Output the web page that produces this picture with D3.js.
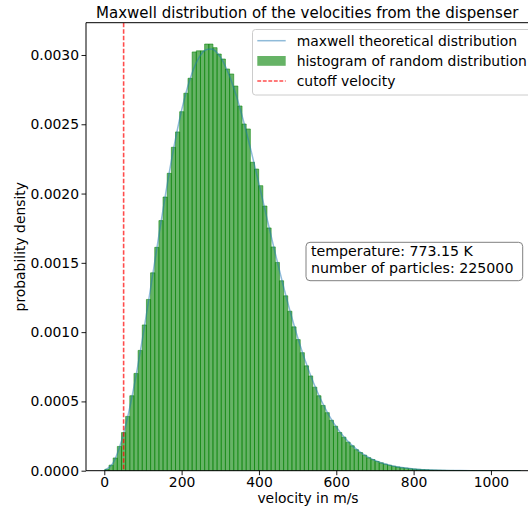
<!DOCTYPE html>
<html>
<head>
<meta charset="utf-8">
<script src="https://cdn.jsdelivr.net/npm/d3@7"></script>
<style>
  body { margin: 0; background: #ffffff; }
  svg { display: block; font-family: "DejaVu Sans", sans-serif; }
</style>
</head>
<body>
<svg id="chart" width="528" height="510"></svg>
<script>
// Histogram of sampled velocities: 100 equal bins starting at binStart (m/s)
const binStart = 1.5;
const binWidth = 10.75;
const histDensity = [
  1.0e-5, 4.0e-5, 9.2e-5, 1.75e-4, 2.75e-4, 3.92e-4, 5.41e-4, 7.02e-4, 8.68e-4, 1.052e-3,
  1.236e-3, 1.428e-3, 1.612e-3, 1.805e-3, 1.975e-3, 2.146e-3, 2.334e-3, 2.445e-3, 2.591e-3, 2.724e-3,
  2.832e-3, 3.022e-3, 3.030e-3, 3.030e-3, 3.079e-3, 3.079e-3, 3.053e-3, 3.007e-3, 2.971e-3, 2.899e-3,
  2.863e-3, 2.776e-3, 2.632e-3, 2.502e-3, 2.466e-3, 2.226e-3, 2.177e-3, 2.057e-3, 1.910e-3, 1.752e-3,
  1.615e-3, 1.503e-3, 1.371e-3, 1.262e-3, 1.151e-3, 1.038e-3, 9.46e-4, 8.52e-4, 7.57e-4, 6.84e-4,
  6.03e-4, 5.41e-4, 4.71e-4, 4.19e-4, 3.64e-4, 3.21e-4, 2.76e-4, 2.42e-4, 2.06e-4, 1.80e-4,
  1.52e-4, 1.31e-4, 1.12e-4, 9.37e-5, 8.01e-5, 6.68e-5, 5.65e-5, 4.66e-5, 3.94e-5, 3.22e-5,
  2.70e-5, 2.19e-5, 1.84e-5, 1.48e-5, 1.22e-5, 9.7e-6, 7.9e-6, 6.6e-6, 5.0e-6, 4.1e-6,
  3.3e-6, 2.6e-6, 2.0e-6, 1.7e-6, 1.2e-6, 1.0e-6, 8.3e-7, 4.1e-7, 8.3e-7, 4.1e-7,
  0, 4.1e-7, 0, 0, 4.1e-7, 0, 0, 0, 0, 4.1e-7
];

// Theoretical Maxwell speed distribution, tabulated (m/s, probability density)
const curveVelocity = [
  0, 20, 40, 60, 80, 100, 120, 140, 160, 180, 200, 220, 240, 260, 280, 300, 320, 340, 360, 380,
  400, 420, 440, 460, 480, 500, 520, 540, 560, 580, 600, 620, 640, 660, 680, 700, 720, 740, 760, 780,
  800, 850, 900, 950, 1000, 1050, 1076
];
const curveDensity = [
  0, 4.43e-5, 1.745e-4, 3.821e-4, 6.542e-4, 9.738e-4, 1.3217e-3, 1.6774e-3, 2.0209e-3, 2.3341e-3,
  2.6015e-3, 2.8111e-3, 2.9562e-3, 3.0326e-3, 3.0411e-3, 2.9867e-3, 2.8759e-3, 2.7182e-3, 2.5239e-3, 2.3042e-3,
  2.0701e-3, 1.8301e-3, 1.5937e-3, 1.3671e-3, 1.1559e-3, 9.634e-4, 7.914e-4, 6.419e-4, 5.136e-4, 4.055e-4,
  3.157e-4, 2.428e-4, 1.844e-4, 1.382e-4, 1.022e-4, 7.47e-5, 5.39e-5, 3.84e-5, 2.71e-5, 1.89e-5,
  1.30e-5, 4.8e-6, 1.7e-6, 5.0e-7, 1.5e-7, 4.0e-8, 1.0e-8
];

const cutoffVelocity = 50;

const xTicks = [0, 200, 400, 600, 800, 1000];
const yTicks = [0, 0.0005, 0.0010, 0.0015, 0.0020, 0.0025, 0.0030];

const titleText = "Maxwell distribution of the velocities from the dispenser";
const xLabelText = "velocity in m/s";
const yLabelText = "probability density";
const legendLabels = ["maxwell theoretical distribution", "histogram of random distribution", "cutoff velocity"];
const infoLines = ["temperature: 773.15 K", "number of particles: 225000"];

// ---- drawing ----
const BAR_FILL = "rgba(0,128,0,0.6)";
const CURVE_COLOR = "#1f77b4";
const CUTOFF_COLOR = "rgba(255,0,0,0.7)";
const FONT = 13.9;

const svg = d3.select("#chart");
const plot = { left: 86, right: 530, top: 22.7, bottom: 470.7 };

const x = d3.scaleLinear().domain([-47.3, 1101]).range([plot.left, plot.right]);
const y = d3.scaleLinear().domain([0, 0.003233]).range([plot.bottom, plot.top]);

svg.append("defs").append("clipPath").attr("id", "plot-clip")
  .append("rect")
  .attr("x", plot.left).attr("y", plot.top)
  .attr("width", plot.right - plot.left).attr("height", plot.bottom - plot.top);

const body = svg.append("g").attr("clip-path", "url(#plot-clip)");

// histogram bars (paths so that empty bins still show their outline)
const bins = histDensity.map((d, i) => ({
  x0: binStart + i * binWidth,
  x1: binStart + (i + 1) * binWidth,
  d
}));
body.append("g").selectAll("path").data(bins).join("path")
  .attr("d", b => {
    const a = x(b.x0), c = x(b.x1), y0 = y(0), y1 = y(b.d);
    return `M${a},${y0}V${y1}H${c}V${y0}Z`;
  })
  .attr("fill", BAR_FILL)
  .attr("stroke", BAR_FILL)
  .attr("stroke-width", 0.9);

// theoretical curve
const line = d3.line()
  .x((v, i) => x(v))
  .y((v, i) => y(curveDensity[i]))
  .curve(d3.curveCatmullRom.alpha(0.5));
body.append("path")
  .attr("d", line(curveVelocity))
  .attr("fill", "none")
  .attr("stroke", CURVE_COLOR)
  .attr("stroke-opacity", 0.5)
  .attr("stroke-width", 1.5);

// cutoff velocity
body.append("line")
  .attr("x1", x(cutoffVelocity)).attr("x2", x(cutoffVelocity))
  .attr("y1", plot.top).attr("y2", plot.bottom)
  .attr("stroke", CUTOFF_COLOR)
  .attr("stroke-width", 1.6)
  .attr("stroke-dasharray", "4.5,2");

// axes
const xAxis = d3.axisBottom(x).tickValues(xTicks).tickSize(4.5).tickPadding(2.4)
  .tickFormat(d3.format("d"));
const yAxis = d3.axisLeft(y).tickValues(yTicks).tickSize(4.5).tickPadding(2.5)
  .tickFormat(d3.format(".4f"));

const gx = svg.append("g").attr("transform", `translate(0,${plot.bottom})`).call(xAxis);
const gy = svg.append("g").attr("transform", `translate(${plot.left},0)`).call(yAxis);
[gx, gy].forEach(g => {
  g.select(".domain").remove();
  g.attr("font-family", "DejaVu Sans, sans-serif").attr("font-size", FONT);
  g.selectAll(".tick line").attr("stroke", "#000").attr("stroke-width", 0.9);
  g.selectAll(".tick text").attr("fill", "#000");
});

// spines
const spines = svg.append("g").attr("stroke", "#000").attr("stroke-width", 1).attr("fill", "none");
spines.append("line").attr("x1", plot.left).attr("x2", plot.left).attr("y1", plot.top).attr("y2", plot.bottom);
spines.append("line").attr("x1", plot.left).attr("x2", plot.right).attr("y1", plot.bottom).attr("y2", plot.bottom);
spines.append("line").attr("x1", plot.left).attr("x2", plot.right).attr("y1", plot.top).attr("y2", plot.top);

// title and axis labels
svg.append("text").attr("x", 307.2).attr("y", 18.3)
  .attr("text-anchor", "middle").attr("font-size", 15).attr("fill", "#000")
  .text(titleText);
svg.append("text").attr("x", 308).attr("y", 503)
  .attr("text-anchor", "middle").attr("font-size", FONT).attr("fill", "#000")
  .text(xLabelText);
svg.append("text")
  .attr("transform", `translate(24.5,${(plot.top + plot.bottom) / 2}) rotate(-90)`)
  .attr("text-anchor", "middle").attr("font-size", FONT).attr("fill", "#000")
  .text(yLabelText);

// legend
const legend = svg.append("g");
legend.append("rect")
  .attr("x", 252.5).attr("y", 29.5).attr("width", 290).attr("height", 65.5).attr("rx", 3)
  .attr("fill", "#fff").attr("fill-opacity", 0.8)
  .attr("stroke", "#cccccc").attr("stroke-width", 1);
const rowY = [40.7, 60.9, 81.0];
legend.append("line")
  .attr("x1", 257.3).attr("x2", 285.7).attr("y1", rowY[0]).attr("y2", rowY[0])
  .attr("stroke", CURVE_COLOR).attr("stroke-opacity", 0.5).attr("stroke-width", 1.5);
legend.append("rect")
  .attr("x", 257.3).attr("y", rowY[1] - 4.9).attr("width", 28.4).attr("height", 9.8)
  .attr("fill", BAR_FILL);
legend.append("line")
  .attr("x1", 257.3).attr("x2", 285.7).attr("y1", rowY[2]).attr("y2", rowY[2])
  .attr("stroke", CUTOFF_COLOR).attr("stroke-width", 1.3)
  .attr("stroke-dasharray", "3.85,1.67");
legend.selectAll("text.lbl").data(legendLabels).join("text")
  .attr("class", "lbl")
  .attr("x", 296.7).attr("y", (d, i) => rowY[i] + 4.9)
  .attr("font-size", FONT).attr("fill", "#000")
  .text(d => d);

// info box
const info = svg.append("g");
info.append("rect")
  .attr("x", 306).attr("y", 242.3).attr("width", 216.7).attr("height", 38.4).attr("rx", 4)
  .attr("fill", "#fff").attr("stroke", "#808080").attr("stroke-width", 1);
info.selectAll("text").data(infoLines).join("text")
  .attr("x", 311).attr("y", (d, i) => 256.3 + i * 16.8)
  .attr("font-size", 14.2).attr("fill", "#000")
  .text(d => d);
</script>
</body>
</html>
